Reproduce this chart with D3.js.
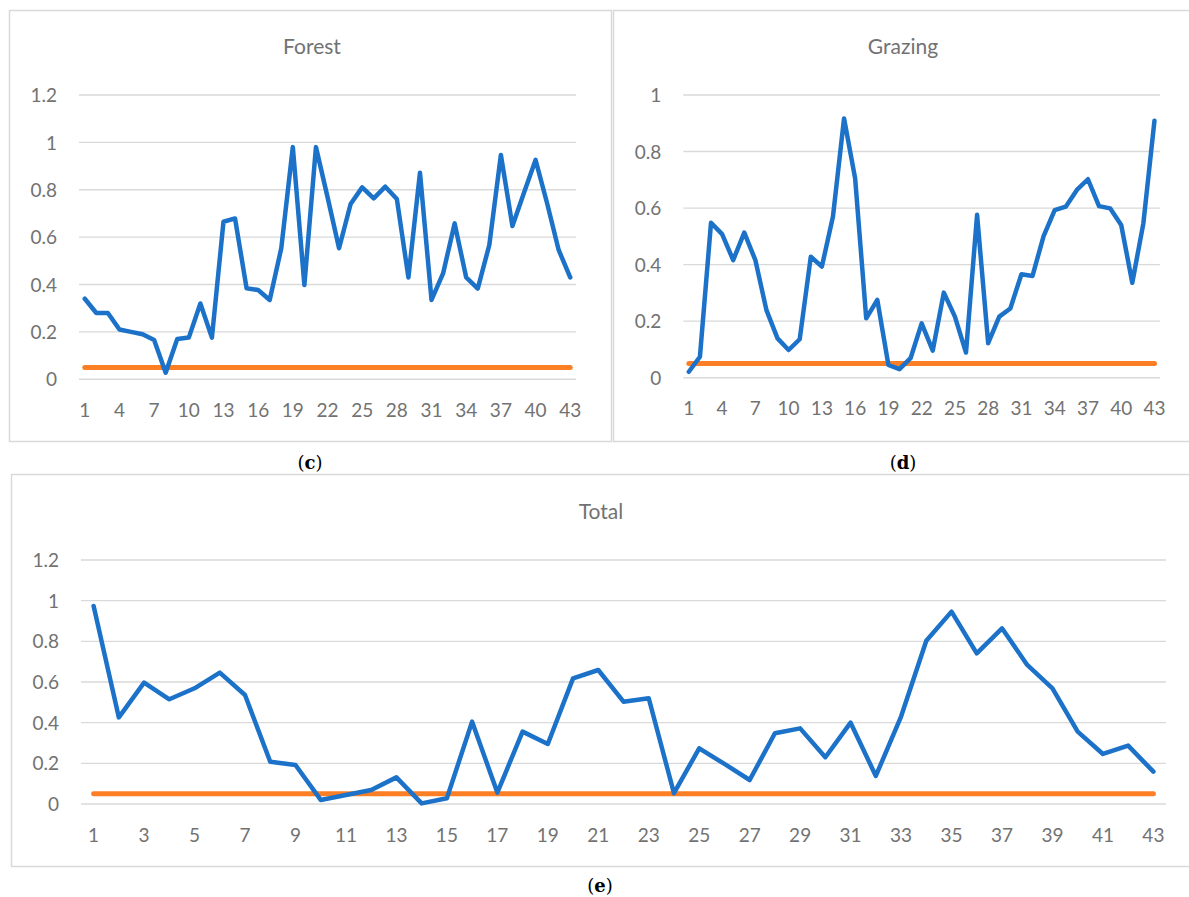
<!DOCTYPE html>
<html>
<head>
<meta charset="utf-8">
<script src="https://cdn.jsdelivr.net/npm/d3@7"></script>
<style>
  html, body { margin: 0; padding: 0; background: #ffffff; }
  svg { display: block; }
</style>
</head>
<body>
<svg id="chart" width="1189" height="897"></svg>
<script>
// ---------- DATA ----------
const categories = d3.range(1, 44); // 1..43 (site index)

const forestValues = [0.34, 0.28, 0.28, 0.21, 0.20, 0.19, 0.166, 0.028, 0.17, 0.176,
  0.32, 0.176, 0.665, 0.679, 0.384, 0.377, 0.335, 0.553, 0.98, 0.398,
  0.98, 0.77, 0.553, 0.74, 0.81, 0.764, 0.813, 0.761, 0.43, 0.872,
  0.335, 0.447, 0.658, 0.43, 0.383, 0.567, 0.947, 0.647, 0.787, 0.926,
  0.743, 0.546, 0.43];

const grazingValues = [0.021, 0.074, 0.548, 0.508, 0.416, 0.513, 0.416, 0.239, 0.139, 0.098,
  0.136, 0.428, 0.393, 0.57, 0.917, 0.705, 0.21, 0.275, 0.045, 0.03,
  0.069, 0.192, 0.096, 0.301, 0.216, 0.089, 0.576, 0.122, 0.216, 0.245,
  0.366, 0.36, 0.501, 0.593, 0.605, 0.664, 0.702, 0.607, 0.599, 0.54,
  0.336, 0.546, 0.909];

const totalValues = [0.974, 0.426, 0.597, 0.515, 0.569, 0.646, 0.536, 0.208, 0.192, 0.02,
  0.044, 0.069, 0.131, 0.003, 0.028, 0.405, 0.056, 0.356, 0.295, 0.618,
  0.659, 0.503, 0.52, 0.053, 0.274, 0.197, 0.118, 0.348, 0.372, 0.23,
  0.4, 0.138, 0.43, 0.803, 0.946, 0.741, 0.864, 0.684, 0.569, 0.356,
  0.246, 0.287, 0.159];

const thresholdValue = 0.05; // orange reference line (constant level)

const yTicksForest = [0, 0.2, 0.4, 0.6, 0.8, 1, 1.2];
const yTicksGrazing = [0, 0.2, 0.4, 0.6, 0.8, 1];
const yTicksTotal = [0, 0.2, 0.4, 0.6, 0.8, 1, 1.2];

const xTicksEvery3 = [1, 4, 7, 10, 13, 16, 19, 22, 25, 28, 31, 34, 37, 40, 43];
const xTicksOdd = [1, 3, 5, 7, 9, 11, 13, 15, 17, 19, 21, 23, 25, 27, 29, 31, 33, 35, 37, 39, 41, 43];

const titles = ["Forest", "Grazing", "Total"];
const captionLetters = ["c", "d", "e"];

// ---------- STYLE ----------
const BLUE = "#1B72C8";
const ORANGE = "#FD7F25";
const GRID = "#d9d9d9";
const TEXT = "#727272";
const FONT = "Lato, 'Open Sans', sans-serif";

const svg = d3.select("#chart");

const panels = [
  { title: titles[0], values: forestValues, yTicks: yTicksForest, yMax: 1.2, xTicks: xTicksEvery3,
    box: [9, 10, 611, 441], xr: [79, 576], yr: [379.3, 95], titleY: 47, titleX: 312,
    caption: captionLetters[0], capX: 310, capY: 463 },
  { title: titles[1], values: grazingValues, yTicks: yTicksGrazing, yMax: 1, xTicks: xTicksEvery3,
    box: [613, 10, 1195, 441], xr: [683.3, 1160], yr: [377.7, 95], titleY: 47, titleX: 903,
    caption: captionLetters[1], capX: 903, capY: 463 },
  { title: titles[2], values: totalValues, yTicks: yTicksTotal, yMax: 1.2, xTicks: xTicksOdd,
    box: [11, 474, 1195, 866], xr: [81, 1166], yr: [804, 560], titleY: 512, titleX: 601,
    caption: captionLetters[2], capX: 600, capY: 886 }
];

panels.forEach(p => {
  const g = svg.append("g");
  // panel border
  g.append("rect")
    .attr("x", p.box[0] + 0.5).attr("y", p.box[1] + 0.5)
    .attr("width", p.box[2] - p.box[0]).attr("height", p.box[3] - p.box[1])
    .attr("fill", "#fff").attr("stroke", GRID).attr("stroke-width", 1.5);

  const x = d3.scaleBand().domain(categories).range(p.xr);
  const cx = d => x(d) + x.bandwidth() / 2;
  const y = d3.scaleLinear().domain([0, p.yMax]).range(p.yr);

  // gridlines
  g.append("g").selectAll("line").data(p.yTicks).join("line")
    .attr("x1", p.xr[0]).attr("x2", p.xr[1])
    .attr("y1", d => y(d)).attr("y2", d => y(d))
    .attr("stroke", GRID).attr("stroke-width", 1.4);

  // y axis
  const yAxis = g.append("g").attr("transform", `translate(${p.xr[0]},0)`)
    .call(d3.axisLeft(y).tickValues(p.yTicks).tickSize(0).tickPadding(22).tickFormat(d3.format("~g")));
  yAxis.select(".domain").remove();
  yAxis.selectAll("text").attr("fill", TEXT).style("font-family", FONT).style("font-size", "19px")
    .attr("dy", "0.35em");

  // x axis
  const xAxis = g.append("g").attr("transform", `translate(0,${p.yr[0]})`)
    .call(d3.axisBottom(x).tickValues(p.xTicks).tickSize(0));
  xAxis.select(".domain").remove();
  xAxis.selectAll("text").attr("fill", TEXT).style("font-family", FONT).style("font-size", "19px")
    .attr("y", 31).attr("dy", "0.35em");

  // threshold line
  g.append("path")
    .datum(categories)
    .attr("d", d3.line().x(d => cx(d)).y(() => y(thresholdValue)))
    .attr("fill", "none").attr("stroke", ORANGE).attr("stroke-width", 5)
    .attr("stroke-linecap", "round");

  // series line
  g.append("path")
    .datum(p.values)
    .attr("d", d3.line().x((d, i) => cx(categories[i])).y(d => y(d)))
    .attr("fill", "none").attr("stroke", BLUE).attr("stroke-width", 4.5)
    .attr("stroke-linejoin", "round").attr("stroke-linecap", "round");

  // title
  g.append("text")
    .attr("x", p.titleX)
    .attr("y", p.titleY).attr("dy", "0.35em")
    .attr("text-anchor", "middle")
    .attr("fill", TEXT).style("font-family", FONT).style("font-size", "21px")
    .text(p.title);

  // caption (c)/(d)/(e)
  const cap = svg.append("text")
    .attr("x", p.capX).attr("y", p.capY).attr("dy", "0.35em")
    .attr("text-anchor", "middle")
    .style("font-family", "'DejaVu Serif', 'Liberation Serif', serif").style("font-size", "18px")
    .attr("fill", "#000");
  cap.append("tspan").text("(");
  cap.append("tspan").attr("font-weight", "bold").text(p.caption);
  cap.append("tspan").text(")");
});
</script>
</body>
</html>
